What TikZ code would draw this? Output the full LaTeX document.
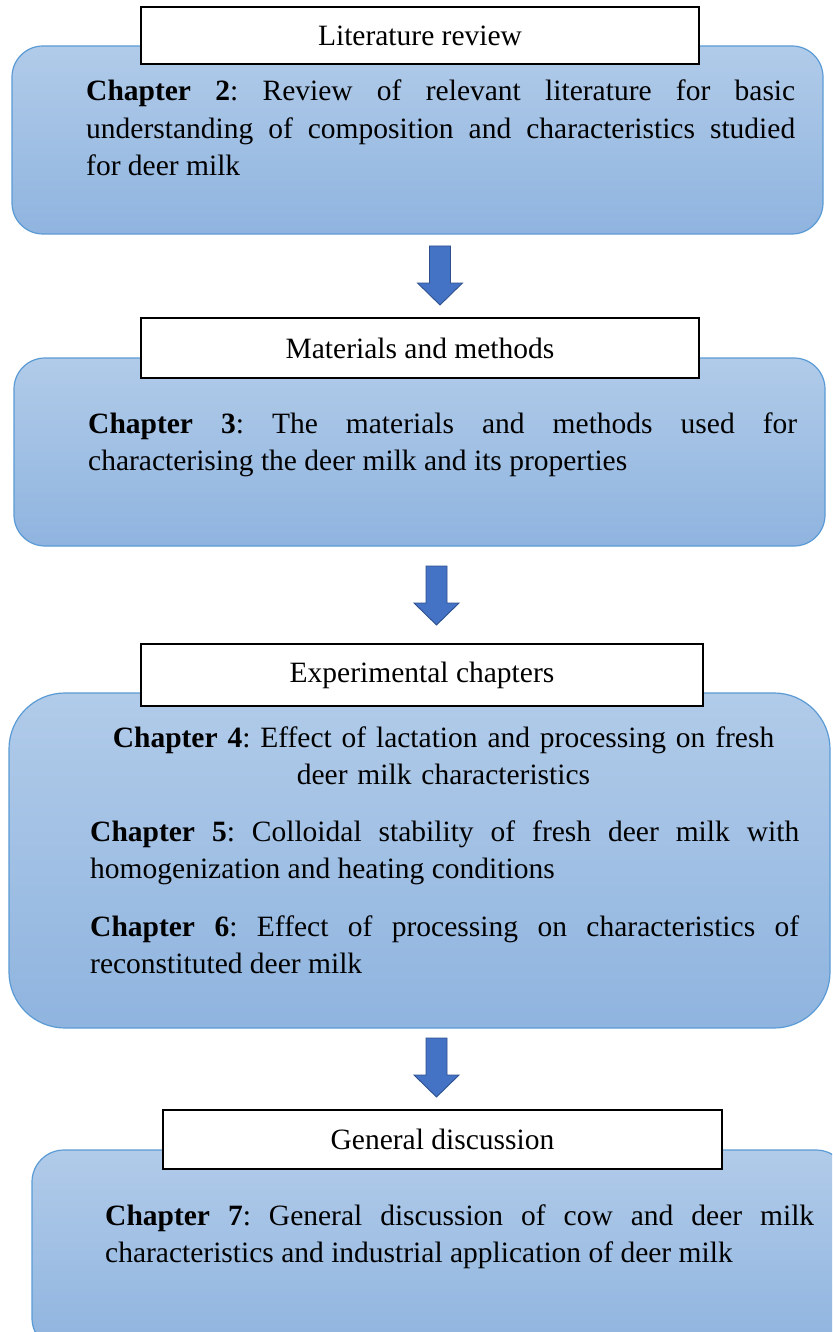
\documentclass[tikz,border=0pt]{standalone}
\usepackage{fontspec}
\setmainfont{Liberation Serif}
\frenchspacing
\begin{document}
\begin{tikzpicture}[x=1pt,y=-1pt,
  chapbox/.style={draw=boxline, line width=1.2pt, top color=gradtop, bottom color=gradbot, inner sep=0pt},
  labelbox/.style={draw=black, line width=2.5pt, fill=white, inner sep=0pt, font=\fontsize{29.5}{37.5}\selectfont},
  chaptext/.style={inner sep=0pt, text width=709pt, align=justify, font=\frenchspacing\fontsize{29.5}{37.5}\selectfont},
  arrowbody/.style={fill=arrowfill, draw=arrowline, line width=0.9pt, line join=miter},
  downarrow/.pic={\path[arrowbody] (-10.5,0) -- (10.5,0) -- (10.5,37) -- (22.5,37) -- (0,59) -- (-22.5,37) -- (-10.5,37) -- cycle;}
]
\definecolor{boxline}{HTML}{5B9BD5}
\definecolor{gradtop}{HTML}{B1CBE9}
\definecolor{gradbot}{HTML}{8FB4DF}
\definecolor{arrowfill}{HTML}{4472C4}
\definecolor{arrowline}{HTML}{2F528F}
\useasboundingbox (0,0) rectangle (832,1332);
\clip (0,0) rectangle (832,1332);
\fill[white] (0,0) rectangle (832,1332);

% box 1
\node[chapbox, rounded corners=31pt, minimum width=811pt, minimum height=188pt] (b1) at (417.5,140) {};
\node[labelbox, minimum width=558pt, minimum height=57pt] (l1) at (420,35.5) {Literature review};
\node[chaptext, anchor=base west] (t1) at (86,101) {\textbf{Chapter 2}: Review of relevant literature for basic\linebreak understanding of composition and characteristics studied\linebreak for deer milk};

\coordinate (a1) at (440,246);
\pic at (a1) {downarrow};

% box 2
\node[chapbox, rounded corners=31pt, minimum width=811pt, minimum height=188pt] (b2) at (419.5,452) {};
\node[labelbox, minimum width=558pt, minimum height=60pt] (l2) at (420,348) {Materials and methods};
\node[chaptext, anchor=base west] (t2) at (88,433) {\textbf{Chapter 3}: The materials and methods used for\linebreak characterising the deer milk and its properties};

\coordinate (a2) at (436.5,566);
\pic at (a2) {downarrow};

% box 3
\node[chapbox, rounded corners=56pt, minimum width=821pt, minimum height=335pt] (b3) at (419.5,860.5) {};
\node[labelbox, minimum width=562pt, minimum height=62pt] (l3) at (422,675) {Experimental chapters};
\node[chaptext, align=center, anchor=base] (ch4) at (443.5,747) {\textbf{Chapter 4}: Effect of lactation and processing on fresh\\ deer milk characteristics};
\node[chaptext, anchor=base west] (ch5) at (90,841) {\textbf{Chapter 5}: Colloidal stability of fresh deer milk with\linebreak homogenization and heating conditions};
\node[chaptext, anchor=base west] (ch6) at (90,936) {\textbf{Chapter 6}: Effect of processing on characteristics of\linebreak reconstituted deer milk};

\coordinate (a3) at (436.5,1038);
\pic at (a3) {downarrow};

% box 4
\node[chapbox, rounded corners=32pt, minimum width=816pt, minimum height=200pt] (b4) at (440,1250) {};
\node[labelbox, minimum width=559pt, minimum height=59pt] (l4) at (442.5,1139.5) {General discussion};
\node[chaptext, anchor=base west] (t4) at (105,1225) {\textbf{Chapter 7}: General discussion of cow and deer milk\linebreak characteristics and industrial application of deer milk};
\end{tikzpicture}
\end{document}
